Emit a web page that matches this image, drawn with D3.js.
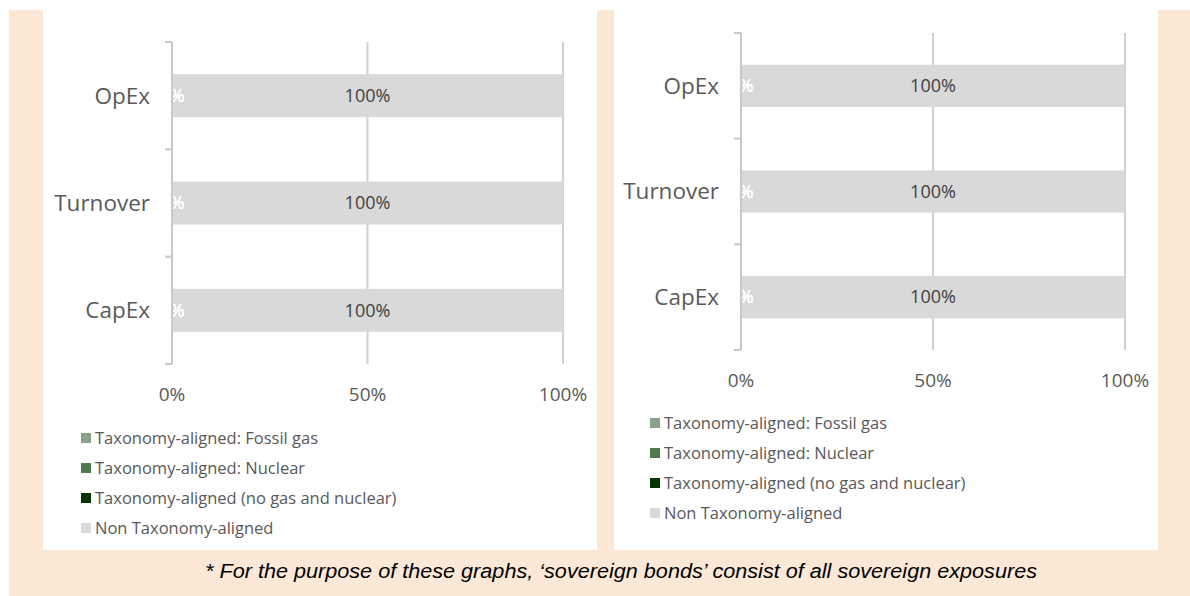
<!DOCTYPE html>
<html lang="en">
<head>
  <meta charset="UTF-8" />
  <title>Taxonomy alignment</title>
  <script src="https://d3js.org/d3.v7.min.js"></script>
  <style>
    body {
      margin: 0;
      overflow: hidden;
      background: #fff;
    }
    text {
      font-family: "Open Sans", sans-serif;
    }
  </style>
</head>
<body>
<svg width="1190" height="596"></svg>
<script>
// data
const categories = ["OpEx", "Turnover", "CapEx"];
const seriesNames = [
  "Taxonomy-aligned: Fossil gas",
  "Taxonomy-aligned: Nuclear",
  "Taxonomy-aligned (no gas and nuclear)",
  "Non Taxonomy-aligned"
];
const seriesColors = ["#87a487", "#4e7a4e", "#043604", "#d9d9d9"];
// stacked left to right: aligned (no gas), nuclear, fossil gas, non aligned
const alignedValues = [0, 0, 0];
const nuclearValues = [0, 0, 0];
const fossilValues = [0, 0, 0];
const nonAlignedValues = [100, 100, 100];
// second chart (excluding sovereign bonds)
const alignedValues2 = [0, 0, 0];
const nuclearValues2 = [0, 0, 0];
const fossilValues2 = [0, 0, 0];
const nonAlignedValues2 = [100, 100, 100];
const xTicks = [0, 50, 100];
const footnote = "* For the purpose of these graphs, \u2018sovereign bonds\u2019 consist of all sovereign exposures";

const svg = d3.select("svg");

// peach frame and white panels
svg.append("rect").attr("x", 9).attr("y", 10).attr("width", 1181).attr("height", 586).attr("fill", "#fbe8d7");
svg.append("rect").attr("x", 43).attr("y", 10).attr("width", 554).attr("height", 540).attr("fill", "#fff");
svg.append("rect").attr("x", 614).attr("y", 10).attr("width", 544).attr("height", 540).attr("fill", "#fff");

function drawPanel(p) {
  const g = svg.append("g");
  const rows = categories.map((c, i) => ({
    cat: c,
    aligned: p.aligned[i], nuclear: p.nuclear[i], fossil: p.fossil[i], non: p.non[i]
  }));
  const keys = ["aligned", "nuclear", "fossil", "non"];
  const keyColor = {aligned: seriesColors[2], nuclear: seriesColors[1], fossil: seriesColors[0], non: seriesColors[3]};
  const stacked = d3.stack().keys(keys)(rows);

  const x = d3.scaleLinear().domain([0, 100]).range([p.x0, p.x1]);
  const y = d3.scaleBand().domain(categories).range([p.y0, p.y1]).paddingInner(0.6).paddingOuter(0.3);
  const yOuter = d3.scaleBand().domain(categories).range([p.y0, p.y1]);

  // vertical gridlines
  g.selectAll(".grid").data(xTicks.slice(1)).enter().append("line")
    .attr("x1", d => x(d)).attr("x2", d => x(d))
    .attr("y1", p.y0).attr("y2", p.y1)
    .attr("stroke", "#d0d0d0").attr("stroke-width", 2);

  // bars
  stacked.forEach(s => {
    g.selectAll(null).data(s).enter().append("rect")
      .attr("x", d => x(d[0]))
      .attr("width", d => x(d[1]) - x(d[0]))
      .attr("y", (d, i) => y(categories[i]))
      .attr("height", y.bandwidth())
      .attr("fill", keyColor[s.key]);
  });

  // data labels
  stacked.forEach(s => {
    g.selectAll(null).data(s).enter().append("text")
      .attr("x", d => x((d[0] + d[1]) / 2))
      .attr("y", (d, i) => y(categories[i]) + y.bandwidth() / 2)
      .attr("dy", "0.35em")
      .attr("text-anchor", "middle")
      .attr("font-size", 18)
      .attr("fill", s.key === "non" ? "#404040" : "#fff")
      .text(d => (d[1] - d[0]) + "%");
  });

  // category axis
  const yAxisScale = d3.scaleLinear().domain([0, 3]).range([p.y0, p.y1]);
  g.append("line").attr("x1", p.x0).attr("x2", p.x0).attr("y1", p.y0).attr("y2", p.y1)
    .attr("stroke", "#c8c8c8").attr("stroke-width", 2);
  g.selectAll(".ytick").data([0, 1, 2, 3]).enter().append("line")
    .attr("x1", p.x0 - 7).attr("x2", p.x0)
    .attr("y1", d => yAxisScale(d)).attr("y2", d => yAxisScale(d))
    .attr("stroke", "#c8c8c8").attr("stroke-width", 2);
  g.selectAll(".ylab").data(categories).enter().append("text")
    .attr("x", p.x0 - 22)
    .attr("y", d => yOuter(d) + yOuter.bandwidth() / 2)
    .attr("dy", "0.35em")
    .attr("text-anchor", "end")
    .attr("font-size", 22.5)
    .attr("fill", "#595959")
    .text(d => d);

  // x tick labels
  g.selectAll(".xlab").data(xTicks).enter().append("text")
    .attr("x", d => x(d))
    .attr("y", p.y1 + 30)
    .attr("dy", "0.35em")
    .attr("text-anchor", "middle")
    .attr("font-size", 19)
    .attr("fill", "#595959")
    .text(d => d + "%");

  // legend
  const leg = g.selectAll(".leg").data(seriesNames).enter().append("g")
    .attr("transform", (d, i) => `translate(${p.legX},${p.legY + i * 30})`);
  leg.append("rect").attr("x", 0).attr("y", -5).attr("width", 10).attr("height", 10)
    .attr("fill", (d, i) => seriesColors[i]);
  leg.append("text").attr("x", 14).attr("dy", "0.35em")
    .attr("font-size", 16.5).attr("fill", "#595959")
    .text(d => d);
}

drawPanel({x0: 172, x1: 563, y0: 42, y1: 364, legX: 81, legY: 438,
  aligned: alignedValues, nuclear: nuclearValues, fossil: fossilValues, non: nonAlignedValues});
drawPanel({x0: 741, x1: 1125, y0: 33, y1: 350, legX: 650, legY: 423,
  aligned: alignedValues2, nuclear: nuclearValues2, fossil: fossilValues2, non: nonAlignedValues2});

svg.append("text")
  .attr("x", 621).attr("y", 578)
  .attr("text-anchor", "middle")
  .attr("font-size", 20)
  .attr("font-style", "italic")
  .style("font-family", "'Liberation Sans Narrow', 'Liberation Sans', sans-serif")
  .attr("fill", "#000")
  .attr("textLength", 832)
  .attr("lengthAdjust", "spacingAndGlyphs")
  .text(footnote);
</script>
</body>
</html>
